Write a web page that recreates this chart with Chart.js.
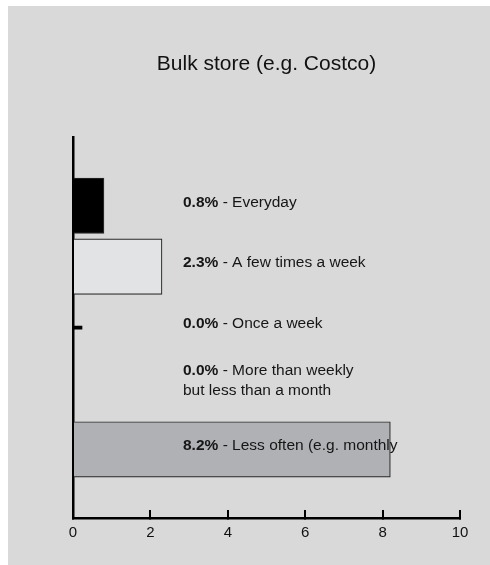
<!DOCTYPE html>
<html>
<head>
<meta charset="utf-8">
<script src="https://cdn.jsdelivr.net/npm/chart.js@4/dist/chart.umd.min.js"></script>
<style>
  html, body { margin: 0; padding: 0; background: #ffffff; }
  #panel { position: absolute; left: 8px; top: 6px; width: 482px; height: 559px; background: #d9d9d9; }
</style>
</head>
<body>
<div id="panel"><canvas id="chart" width="482" height="559"></canvas></div>
<script>
// frequency categories, top to bottom
const categories = ['Everyday', 'A few times a week', 'Once a week', 'More than weekly\nbut less than a month', 'Less often (e.g. monthly'];
// share of respondents (%)
const shares = [0.8, 2.3, 0.0, 0.0, 8.2];
const barColors = ['#000000', '#e2e3e5', '#000000', '#000000', '#b0b1b4'];
// the zero bar that is drawn as a short stub in the original
const stubIndex = [2];
const stubValues = [0.0];
const xTicks = [0, 2, 4, 6, 8, 10];

const font = 'Arial, "Liberation Sans", Helvetica, sans-serif';

// draws "0.8% - Everyday" next to each bar
const barLabels = {
  id: 'barLabels',
  afterDatasetsDraw(chart) {
    const ctx = chart.ctx;
    const yScale = chart.scales.y;
    const x0 = chart.chartArea.left + 110;
    ctx.save();
    ctx.fillStyle = '#161616';
    ctx.textBaseline = 'middle';
    categories.forEach((cat, i) => {
      const lines = cat.split('\n');
      const yc = yScale.getPixelForValue(i) - 3.5 - (lines.length - 1) * 14;
      lines.forEach((line, k) => {
        let x = x0;
        const y = yc + k * 19.3;
        if (k === 0) {
          const pct = shares[i].toFixed(1) + '%';
          ctx.font = 'bold 15.5px ' + font;
          ctx.fillText(pct, x, y);
          x += ctx.measureText(pct).width;
          line = ' - ' + line;
        }
        ctx.font = '15.5px ' + font;
        ctx.fillText(line, x, y);
      });
    });
    ctx.restore();
  }
};

new Chart(document.getElementById('chart'), {
  type: 'bar',
  data: {
    datasets: [
      {
        data: shares.map((v, i) => ({ x: v, y: i })),
        backgroundColor: barColors,
        borderColor: '#2a2a2a',
        borderWidth: 1.2,
        barThickness: 55.5,
        grouped: false
      },
      {
        data: stubValues.map((v, i) => ({ x: v, y: stubIndex[i] })),
        backgroundColor: '#000000',
        borderWidth: 0,
        barThickness: 3,
        minBarLength: 9,
        grouped: false
      }
    ]
  },
  options: {
    indexAxis: 'y',
    responsive: false,
    animation: false,
    layout: { padding: { left: 65, right: 30, top: 0, bottom: 9 } },
    plugins: {
      legend: { display: false },
      tooltip: { enabled: false },
      title: {
        display: true,
        text: 'Bulk store (e.g. Costco)',
        color: '#111111',
        font: { family: font, size: 21, weight: 'normal', lineHeight: 1.2 },
        padding: { top: 46, bottom: 60 }
      }
    },
    scales: {
      x: {
        type: 'linear',
        min: xTicks[0],
        max: xTicks[xTicks.length - 1],
        afterBuildTicks: (scale) => { scale.ticks = xTicks.map(v => ({ value: v })); },
        ticks: { color: '#111111', font: { family: font, size: 15 }, padding: 14, maxRotation: 0 },
        grid: { drawOnChartArea: false, drawTicks: true, tickLength: -8, color: '#000000', lineWidth: 2 },
        border: { display: true, color: '#000000', width: 2.5 }
      },
      y: {
        type: 'linear',
        reverse: true,
        offset: false,
        min: -1.125,
        max: 5.125,
        ticks: { display: false },
        grid: { display: false, drawTicks: false, offset: false },
        border: { display: true, color: '#000000', width: 2.5 }
      }
    }
  },
  plugins: [barLabels]
});
</script>
</body>
</html>
